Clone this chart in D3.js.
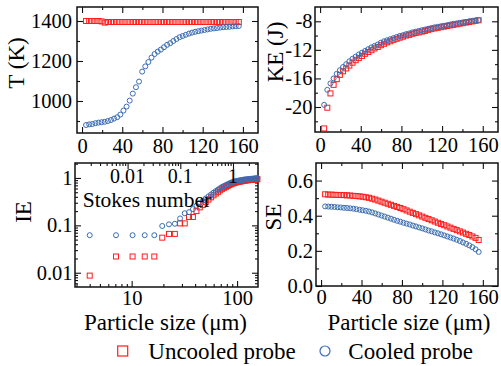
<!DOCTYPE html>
<html><head><meta charset="utf-8">
<script src="https://cdn.jsdelivr.net/npm/d3@7"></script>
<style>
body{margin:0;background:#fff}
svg{display:block}
</style>
</head><body>
<svg id="c" width="501" height="366"></svg>
<script>
// ---------- DATA ----------
const sizes = [4.0,7.1,10.2,13.3,16.4,19.5,22.6,25.7,28.8,31.9,35.0,38.1,41.2,44.3,47.4,50.5,53.6,56.7,59.8,62.9,66.0,69.1,72.2,75.3,78.4,81.5,84.6,87.7,90.8,93.9,97.0,100.1,103.2,106.3,109.4,112.5,115.6,118.7,121.8,124.9,128.0,131.1,134.2,137.3,140.4,143.5,146.6,149.7,152.8,155.9];

const T_uncooled = [1400,1400,1400,1400,1400,1398,1392,1395,1395,1395,1395,1395,1395,1395,1395,1395,1395,1395,1395,1395,1395,1395,1395,1395,1395,1395,1395,1395,1395,1395,1395,1395,1395,1395,1395,1395,1395,1395,1395,1395,1395,1395,1395,1395,1395,1395,1395,1395,1395,1395];
const T_cooled = [880,883,885,889,892,894,896,900,905,912,919,932,952,972,1002,1037,1069,1097,1147,1173,1195,1217,1235,1247,1257,1269,1281,1289,1300,1310,1319,1325,1331,1337,1342,1346,1349,1352,1355,1358,1361,1363,1365,1367,1369,1370,1371,1373,1374,1375];

const KE_uncooled = [-23.0,-20.1,-18.1,-16.9,-16.1,-15.5,-15.0,-14.6,-14.2,-13.8,-13.45,-13.15,-12.85,-12.55,-12.3,-12.05,-11.8,-11.6,-11.35,-11.15,-10.95,-10.8,-10.6,-10.45,-10.3,-10.15,-10.0,-9.9,-9.75,-9.65,-9.55,-9.45,-9.35,-9.2,-9.1,-9.0,-8.92,-8.83,-8.75,-8.66,-8.58,-8.5,-8.42,-8.34,-8.26,-8.18,-8.1,-8.02,-7.94,-7.86];
const KE_cooled = [-19.7,-17.6,-16.7,-16.0,-15.35,-14.85,-14.4,-14.0,-13.6,-13.25,-12.95,-12.65,-12.4,-12.15,-11.9,-11.65,-11.45,-11.25,-11.0,-10.8,-10.65,-10.5,-10.35,-10.2,-10.05,-9.95,-9.8,-9.7,-9.55,-9.45,-9.35,-9.25,-9.15,-9.05,-8.95,-8.85,-8.78,-8.7,-8.62,-8.55,-8.45,-8.35,-8.3,-8.22,-8.15,-8.08,-8.0,-7.95,-7.88,-7.82];

const IE_uncooled = [0.0087,0.022,0.022,0.022,0.022,0.055,0.066,0.066,0.11,0.11,0.15,0.15,0.2,0.24,0.27,0.31,0.35,0.39,0.43,0.47,0.51,0.55,0.59,0.62,0.65,0.68,0.71,0.74,0.76,0.78,0.80,0.82,0.83,0.84,0.85,0.86,0.87,0.88,0.89,0.895,0.90,0.905,0.91,0.915,0.92,0.925,0.93,0.935,0.94,0.945];
const IE_cooled = [0.062,0.062,0.062,0.062,0.062,0.097,0.105,0.108,0.14,0.18,0.19,0.22,0.26,0.30,0.33,0.37,0.41,0.45,0.49,0.53,0.57,0.61,0.65,0.68,0.71,0.74,0.77,0.80,0.82,0.84,0.86,0.87,0.88,0.89,0.90,0.91,0.92,0.93,0.935,0.94,0.945,0.95,0.955,0.96,0.965,0.97,0.975,0.98,0.985,0.99];

const SE_uncooled = [0.522,0.52,0.52,0.519,0.518,0.518,0.517,0.516,0.515,0.513,0.512,0.51,0.508,0.505,0.502,0.497,0.492,0.486,0.48,0.474,0.468,0.462,0.456,0.45,0.444,0.437,0.43,0.423,0.416,0.409,0.402,0.395,0.388,0.381,0.374,0.367,0.36,0.353,0.346,0.339,0.332,0.325,0.318,0.311,0.304,0.297,0.29,0.282,0.274,0.262];
const SE_cooled = [0.453,0.452,0.451,0.45,0.448,0.447,0.445,0.444,0.442,0.44,0.437,0.434,0.431,0.428,0.424,0.419,0.413,0.407,0.401,0.395,0.389,0.383,0.377,0.371,0.366,0.36,0.355,0.35,0.344,0.339,0.333,0.328,0.322,0.316,0.311,0.305,0.3,0.294,0.288,0.282,0.276,0.27,0.263,0.256,0.248,0.24,0.231,0.221,0.209,0.194];

// tick labels
const sizeTicks = [0,40,80,120,160];
const sizeMinor = [20,60,100,140];
const T_ticks = [1000,1200,1400];
const T_minor = [900,1100,1300];
const KE_ticks = [-20,-16,-12,-8];
const KE_minor = [-22,-18,-14,-10];
const SE_ticks = [0.0,0.2,0.4,0.6];
const SE_minor = [0.1,0.3,0.5];
const IE_xTicks = [10,100];
const IE_yTicks = [0.01,0.1,1];
const stokesTicks = [0.01,0.1,1];
const stokesRefSize = 91.5; // particle size (µm) where Stokes number = 1
const seriesNames = ["Uncooled probe","Cooled probe"];

// ---------- DRAW ----------
const FONT = "'Liberation Serif', Tinos, 'Times New Roman', Times, 'DejaVu Serif', serif";
const RED = "#ff1c1c", BLUE = "#3b6db3";
const FS = 20.5;
const svg = d3.select("#c").attr("font-family", FONT);

function logMinor(lo, hi) {
  const out = [];
  for (let e = -4; e <= 3; e++) for (let k = 1; k <= 9; k++) {
    const v = k * Math.pow(10, e);
    if (v >= lo * 1.0001 && v <= hi * 0.9999) out.push(+v.toPrecision(3));
  }
  return out;
}

function axis(g, fn, scale, vals, size, fmt, pad, tr) {
  const a = fn(scale).tickValues(vals).tickSizeInner(-size).tickSizeOuter(0)
    .tickPadding(pad).tickFormat(fmt || (() => ""));
  const ag = g.append("g").attr("transform", tr || null).call(a);
  ag.attr("font-family", FONT).attr("font-size", FS);
  ag.select(".domain").remove();
  ag.selectAll("line").attr("stroke", "#111").attr("stroke-width", 1.1);
  ag.selectAll("text").attr("fill", "#000").style("font-family", FONT);
  return ag;
}

function txt(sel) { return sel.style("font-family", FONT).attr("fill", "#000"); }

function makePanel(o) {
  const w = o.x1 - o.x0, h = o.y1 - o.y0;
  const g = svg.append("g").attr("transform", `translate(${o.x0},${o.y0})`);
  const x = o.xScale.range([0, w]);
  const y = o.yScale.range([h, 0]);
  axis(g, d3.axisBottom, x, o.xMajor, 6, o.xFmt, o.xPad, `translate(0,${h})`);
  axis(g, d3.axisBottom, x, o.xMinor, 3, null, 0, `translate(0,${h})`);
  if (o.mirrorX !== false) {
    axis(g, d3.axisTop, x, o.xMajor, 6, null, 0);
    axis(g, d3.axisTop, x, o.xMinor, 3, null, 0);
  }
  axis(g, d3.axisLeft, y, o.yMajor, 6, o.yFmt, o.yPad);
  axis(g, d3.axisLeft, y, o.yMinor, 3, null, 0);
  axis(g, d3.axisRight, y, o.yMajor, 6, null, 0, `translate(${w},0)`);
  axis(g, d3.axisRight, y, o.yMinor, 3, null, 0, `translate(${w},0)`);
  g.append("rect").attr("width", w).attr("height", h)
    .attr("fill", "none").attr("stroke", "#111").attr("stroke-width", 1.5);
  const red = sizes.map((s, i) => [s, o.red[i]]);
  const blue = sizes.map((s, i) => [s, o.blue[i]]);
  g.append("g").selectAll("rect").data(red).join("rect")
    .attr("x", d => x(d[0]) - 2.5).attr("y", d => y(d[1]) - 2.5)
    .attr("width", 5).attr("height", 5)
    .attr("fill", "none").attr("stroke", RED).attr("stroke-width", 1);
  g.append("g").selectAll("circle").data(blue).join("circle")
    .attr("cx", d => x(d[0])).attr("cy", d => y(d[1])).attr("r", 2.5)
    .attr("fill", "none").attr("stroke", BLUE).attr("stroke-width", 1);
  txt(svg.append("text")).attr("transform", `translate(${o.titleX},${o.titleY}) rotate(-90)`)
    .attr("text-anchor", "middle").attr("dy", "0.33em").attr("font-size", 23).text(o.title);
  if (o.xTitle) {
    txt(svg.append("text")).attr("x", o.x0 + w / 2 + (o.xTitleDx || 0)).attr("y", 330)
      .attr("text-anchor", "middle").attr("font-size", 23).text(o.xTitle);
  }
  return { g, x, y, w, h };
}

const lin = d => String(d);

makePanel({
  x0: 77, x1: 258, y0: 7, y1: 133,
  xScale: d3.scaleLinear().domain([-5, 175]), yScale: d3.scaleLinear().domain([840, 1470]),
  xMajor: sizeTicks, xMinor: sizeMinor, yMajor: T_ticks, yMinor: T_minor,
  xFmt: lin, yFmt: lin, xPad: 5, yPad: 5,
  red: T_uncooled, blue: T_cooled, title: "T (K)", titleX: 16, titleY: 63
});

makePanel({
  x0: 315, x1: 498, y0: 7, y1: 132,
  xScale: d3.scaleLinear().domain([-5, 175]), yScale: d3.scaleLinear().domain([-23.5, -6]),
  xMajor: sizeTicks, xMinor: sizeMinor, yMajor: KE_ticks, yMinor: KE_minor,
  xFmt: lin, yFmt: lin, xPad: 5, yPad: 2.5,
  red: KE_uncooled, blue: KE_cooled, title: "KE (J)", titleX: 275, titleY: 52
});

const ieDomX = [2.9, 158], ieDomY = [0.005, 2.07];
const ie = makePanel({
  x0: 75, x1: 258, y0: 163, y1: 287,
  xScale: d3.scaleLog().domain(ieDomX), yScale: d3.scaleLog().domain(ieDomY),
  xMajor: IE_xTicks, xMinor: logMinor(ieDomX[0], ieDomX[1]).filter(v => !IE_xTicks.includes(v)),
  yMajor: IE_yTicks, yMinor: logMinor(ieDomY[0], ieDomY[1]).filter(v => !IE_yTicks.includes(v)),
  xFmt: lin, yFmt: lin, xPad: 3.5, yPad: 2.5, mirrorX: false,
  red: IE_uncooled, blue: IE_cooled, title: "IE", titleX: 23.5, titleY: 212,
  xTitle: "Particle size (μm)", xTitleDx: -1
});
// Stokes number top axis
const stDom = ieDomX.map(d => (d / stokesRefSize) ** 2);
const st = d3.scaleLog().domain(stDom).range([0, ie.w]);
const stAll = logMinor(stDom[0], stDom[1]);
axis(ie.g, d3.axisTop, st, stokesTicks.concat(stAll.filter(v => v === 0.001)), 6, null, 0);
axis(ie.g, d3.axisTop, st, stAll.filter(v => !stokesTicks.includes(v) && v !== 0.001), 3, null, 0);
txt(ie.g.append("g").selectAll("text").data(stokesTicks).join("text"))
  .attr("x", d => st(d)).attr("y", 20).attr("text-anchor", "middle")
  .attr("font-size", 20).text(d => String(d));
txt(ie.g.append("text")).attr("x", 7.7).attr("y", 43.5).attr("font-size", 21.5).text("Stokes number");

makePanel({
  x0: 316, x1: 498, y0: 163, y1: 286,
  xScale: d3.scaleLinear().domain([-5, 175]), yScale: d3.scaleLinear().domain([0, 0.7]),
  xMajor: sizeTicks, xMinor: sizeMinor, yMajor: SE_ticks, yMinor: SE_minor,
  xFmt: lin, yFmt: d3.format(".1f"), xPad: 3.5, yPad: 3,
  red: SE_uncooled, blue: SE_cooled, title: "SE", titleX: 273.5, titleY: 217,
  xTitle: "Particle size (μm)", xTitleDx: 2
});

// legend
const lg = svg.append("g");
lg.append("rect").attr("x", 117.7).attr("y", 346).attr("width", 10).attr("height", 10)
  .attr("fill", "none").attr("stroke", RED).attr("stroke-width", 1.2);
txt(lg.append("text")).attr("x", 148.3).attr("y", 358.5).attr("font-size", 23).text(seriesNames[0]);
lg.append("circle").attr("cx", 325).attr("cy", 351).attr("r", 5)
  .attr("fill", "none").attr("stroke", BLUE).attr("stroke-width", 1.2);
txt(lg.append("text")).attr("x", 348.3).attr("y", 358.5).attr("font-size", 23).text(seriesNames[1]);
</script>
</body></html>
